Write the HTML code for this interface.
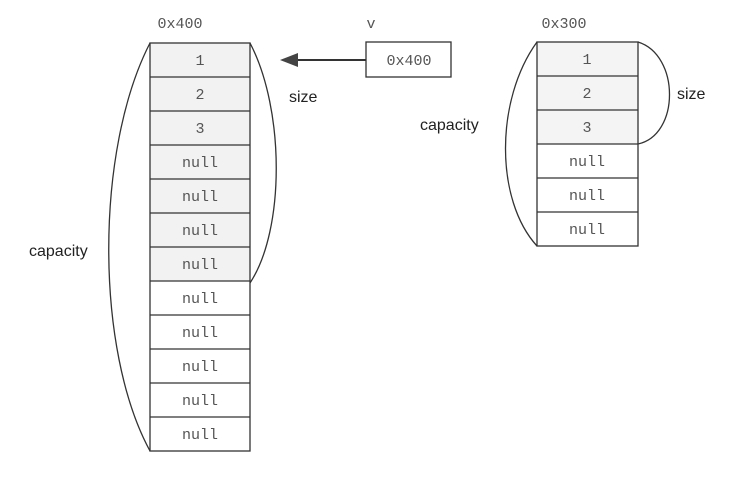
<!DOCTYPE html>
<html><head><style>body{margin:0;background:#fff}</style></head><body>
<svg width="743" height="479" xmlns="http://www.w3.org/2000/svg" style="display:block">
<g font-family="Liberation Mono, monospace" font-size="15" fill="#555" text-anchor="middle">
<!-- left array -->
<rect x="150" y="43" width="100" height="238" fill="#f2f2f2"/>
<rect x="537" y="42" width="101" height="102" fill="#f4f4f4"/>
<g stroke="#333" stroke-width="1.3" fill="none">
<rect x="150" y="43" width="100" height="408"/>
<line x1="150" y1="77" x2="250" y2="77"/><line x1="150" y1="111" x2="250" y2="111"/>
<line x1="150" y1="145" x2="250" y2="145"/><line x1="150" y1="179" x2="250" y2="179"/>
<line x1="150" y1="213" x2="250" y2="213"/><line x1="150" y1="247" x2="250" y2="247"/>
<line x1="150" y1="281" x2="250" y2="281"/><line x1="150" y1="315" x2="250" y2="315"/>
<line x1="150" y1="349" x2="250" y2="349"/><line x1="150" y1="383" x2="250" y2="383"/>
<line x1="150" y1="417" x2="250" y2="417"/>
<path d="M150,43 C95,150 95,350 150,451"/>
<path d="M250,43 C285,110 285,230 250,283"/>
<!-- right array -->
<rect x="537" y="42" width="101" height="204"/>
<line x1="537" y1="76" x2="638" y2="76"/><line x1="537" y1="110" x2="638" y2="110"/>
<line x1="537" y1="144" x2="638" y2="144"/><line x1="537" y1="178" x2="638" y2="178"/>
<line x1="537" y1="212" x2="638" y2="212"/>
<path d="M537,42 C495,100 495,200 537,246"/>
<path d="M638,42 C680,55 680,135 638,144"/>
<rect x="366" y="42" width="85" height="35"/>
<line x1="366" y1="60" x2="295" y2="60" stroke-width="2"/>
</g>
<polygon points="280,60 298,53 298,67" fill="#444"/>
<text x="180" y="28">0x400</text>
<text x="371" y="28">v</text>
<text x="409" y="65">0x400</text>
<text x="564" y="28">0x300</text>
<text x="200" y="65">1</text><text x="200" y="99">2</text><text x="200" y="133">3</text>
<text x="200" y="167">null</text><text x="200" y="201">null</text><text x="200" y="235">null</text>
<text x="200" y="269">null</text><text x="200" y="303">null</text><text x="200" y="337">null</text>
<text x="200" y="371">null</text><text x="200" y="405">null</text><text x="200" y="439">null</text>
<text x="587" y="64">1</text><text x="587" y="98">2</text><text x="587" y="132">3</text>
<text x="587" y="166">null</text><text x="587" y="200">null</text><text x="587" y="234">null</text>
</g>
<g font-family="Liberation Sans, sans-serif" font-size="16" fill="#222">
<text x="289" y="102">size</text>
<text x="677" y="99">size</text>
<text x="420" y="130">capacity</text>
<text x="29" y="256">capacity</text>
</g>
</svg>
</body></html>
